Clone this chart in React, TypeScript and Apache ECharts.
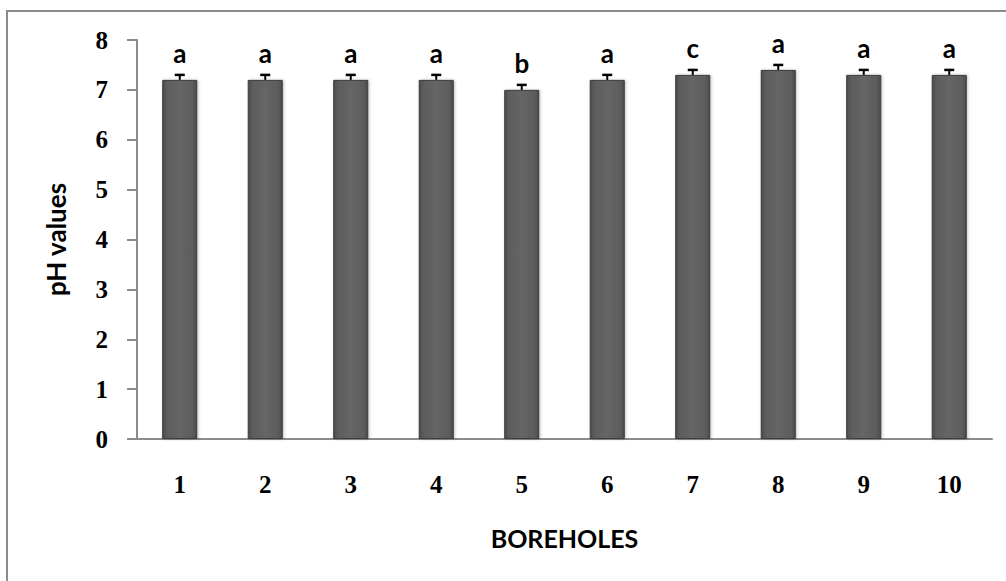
import React, { useEffect, useRef } from "react";
import * as echarts from "echarts";

const categories = ["1", "2", "3", "4", "5", "6", "7", "8", "9", "10"];
const phValues = [7.2, 7.2, 7.2, 7.2, 7.0, 7.2, 7.3, 7.4, 7.3, 7.3];
const errors = [0.1, 0.1, 0.1, 0.1, 0.1, 0.1, 0.1, 0.1, 0.1, 0.1];
const letters = ["a", "a", "a", "a", "b", "a", "c", "a", "a", "a"];

export default function App() {
  const ref = useRef<HTMLDivElement>(null);
  useEffect(() => {
    if (!ref.current) return;
    const chart = echarts.init(ref.current, undefined, { renderer: "svg" });
    const serif = "'Liberation Serif', 'Times New Roman', serif";
    const sans = "Lato, 'Open Sans', sans-serif";
    chart.setOption({
      animation: false,
      backgroundColor: "#ffffff",
      graphic: [
        {
          type: "rect",
          shape: { x: 7, y: 11, width: 1020, height: 600 },
          style: { fill: "none", stroke: "#8c8c8c", lineWidth: 2 },
          silent: true,
        },
      ],
      grid: { left: 137, right: 14, top: 40, bottom: 142 },
      xAxis: {
        type: "category",
        data: categories,
        axisLine: { lineStyle: { color: "#8c8c8c", width: 2 } },
        axisTick: { show: false },
        axisLabel: {
          margin: 33,
          color: "#000",
          fontFamily: serif,
          fontWeight: "bold",
          fontSize: 25,
        },
        name: "BOREHOLES",
        nameLocation: "middle",
        nameGap: 86,
        nameTextStyle: { color: "#000", fontFamily: sans, fontWeight: "bold", fontSize: 25 },
      },
      yAxis: {
        type: "value",
        min: 0,
        max: 8,
        interval: 1,
        splitLine: { show: false },
        axisLine: { show: true, lineStyle: { color: "#8c8c8c", width: 2 } },
        axisTick: { show: true, length: 10, lineStyle: { color: "#8c8c8c", width: 2 } },
        axisLabel: {
          margin: 29,
          color: "#000",
          fontFamily: serif,
          fontWeight: "bold",
          fontSize: 25,
        },
        name: "pH values",
        nameLocation: "middle",
        nameGap: 68,
        nameTextStyle: { color: "#000", fontFamily: sans, fontWeight: "bold", fontSize: 26 },
      },
      series: [
        {
          type: "bar",
          data: phValues,
          barWidth: "41%",
          itemStyle: {
            color: new echarts.graphic.LinearGradient(0, 0, 1, 0, [
              { offset: 0, color: "#4a4a4a" },
              { offset: 0.12, color: "#5c5c5c" },
              { offset: 0.5, color: "#666666" },
              { offset: 0.88, color: "#5c5c5c" },
              { offset: 1, color: "#4a4a4a" },
            ]),
            borderColor: "#3c3c3c",
            borderWidth: 1,
            shadowColor: "rgba(0,0,0,0.25)",
            shadowBlur: 3,
            shadowOffsetX: 1,
          },
          label: {
            show: true,
            position: "top",
            distance: 14,
            formatter: (p: any) => letters[p.dataIndex],
            color: "#000",
            fontFamily: sans,
            fontWeight: "bold",
            fontSize: 26,
          },
          z: 2,
        },
        {
          type: "custom",
          data: phValues.map((v, i) => [i, v, v + errors[i]]),
          renderItem: (params: any, api: any) => {
            const i = api.value(0);
            const p0 = api.coord([i, api.value(1)]);
            const p1 = api.coord([i, api.value(2)]);
            const half = 5;
            return {
              type: "group",
              children: [
                {
                  type: "line",
                  shape: { x1: p0[0], y1: p0[1], x2: p1[0], y2: p1[1] },
                  style: { stroke: "#000", lineWidth: 2 },
                },
                {
                  type: "line",
                  shape: { x1: p1[0] - half, y1: p1[1], x2: p1[0] + half, y2: p1[1] },
                  style: { stroke: "#000", lineWidth: 2.5 },
                },
              ],
            };
          },
          z: 3,
        },
      ],
    });
    return () => chart.dispose();
  }, []);
  return (
    <div
      ref={ref}
      style={{ position: "fixed", left: 0, top: 0, width: 1006, height: 581 }}
    />
  );
}
